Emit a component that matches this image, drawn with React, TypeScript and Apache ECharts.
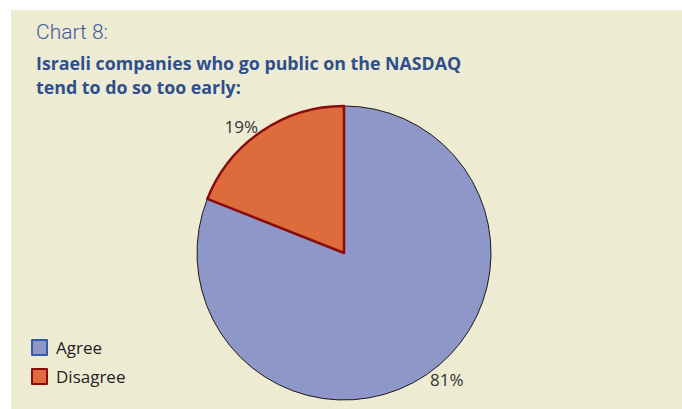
import React, { useEffect, useRef } from "react";
import * as echarts from "echarts";

const categories = ["Agree", "Disagree"];
const values = [81, 19];
const sliceColors = ["#8f97c8", "#dd6b3c"];
const sliceBorders = ["#1a1a1a", "#8b0b0b"];
const legendBorders = ["#2f5ba8", "#8b0b0b"];
const titleText = "Chart 8:";
const subtitleLines = [
  "Israeli companies who go public on the NASDAQ",
  "tend to do so too early:",
];

export default function App() {
  const ref = useRef<HTMLDivElement>(null);
  useEffect(() => {
    document.body.style.margin = "0";
    const chart = echarts.init(ref.current!, null, { renderer: "svg" });
    chart.setOption({
      animation: false,
      backgroundColor: "#ffffff",
      graphic: [
        {
          type: "rect",
          z: -10,
          silent: true,
          shape: { x: 11, y: 10, width: 700, height: 420 },
          style: { fill: "#eeebd3" },
        },
      ],
      title: [
        {
          text: titleText,
          left: 36,
          top: 21,
          padding: 0,
          textStyle: {
            fontFamily: "Roboto",
            fontWeight: 300,
            fontSize: 21,
            color: "#3d5c9c",
          },
        },
        {
          text: subtitleLines.join("\n"),
          left: 36,
          top: 51,
          padding: 0,
          textStyle: {
            fontFamily: "Open Sans",
            fontWeight: "bold",
            fontSize: 17.8,
            lineHeight: 24,
            color: "#2d4f8e",
          },
        },
      ],
      legend: {
        orient: "vertical",
        left: 31,
        top: 339,
        padding: 0,
        icon: "rect",
        itemWidth: 15,
        itemHeight: 15,
        itemGap: 12,
        textStyle: {
          fontFamily: "Open Sans",
          fontSize: 17,
          color: "#222",
          padding: [0, 0, 0, 4],
        },
        data: categories.map((c, i) => ({
          name: c,
          itemStyle: { borderColor: legendBorders[i], borderWidth: 2 },
        })),
      },
      series: [
        {
          type: "pie",
          center: [344, 253],
          radius: 147,
          startAngle: 90,
          clockwise: true,
          label: {
            show: true,
            position: "outside",
            formatter: "{c}%",
            fontFamily: "Open Sans",
            fontSize: 17,
            color: "#333",
            distanceToLabelLine: 0,
          },
          labelLine: { show: false, length: 6, length2: 0 },
          emphasis: { disabled: true },
          data: categories.map((c, i) => ({
            name: c,
            value: values[i],
            itemStyle: {
              color: sliceColors[i],
              borderColor: sliceBorders[i],
              borderWidth: i === 1 ? 2.5 : 1,
            },
          })),
        },
      ],
    });
    return () => chart.dispose();
  }, []);
  return <div ref={ref} style={{ width: 682, height: 409 }} />;
}
